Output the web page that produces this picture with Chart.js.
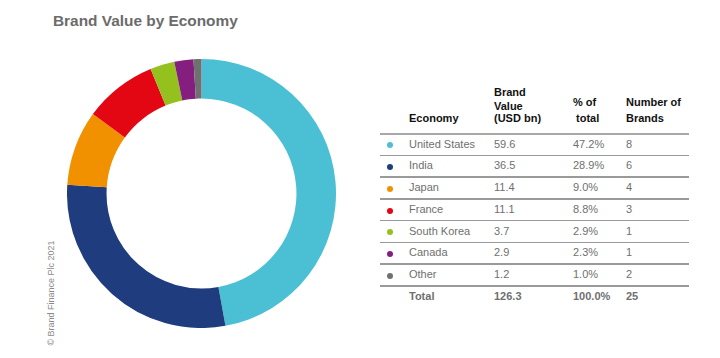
<!DOCTYPE html>
<html>
<head>
<meta charset="utf-8">
<script src="https://cdn.jsdelivr.net/npm/chart.js@4"></script>
<style>
  html, body { margin:0; padding:0; background:#fff; }
  body { width:720px; height:358px; position:relative; overflow:hidden; font-family:"Liberation Sans", Arial, sans-serif; }
  #title { position:absolute; left:53px; top:13px; font-size:15.4px; line-height:15px; font-weight:bold; color:#6b6b6b; white-space:nowrap; }
  #chartBox { position:absolute; left:67px; top:59px; width:269px; height:269px; }
  #copy { position:absolute; left:51px; top:293px; font-size:9px; line-height:9px; color:#8a8a8a; white-space:nowrap; transform:translate(-50%,-50%) rotate(-90deg); }
  .t { position:absolute; white-space:nowrap; font-size:11px; }
  .h { font-weight:bold; color:#111; line-height:13px; }
  .c { color:#6f6f6f; }
  .b { font-weight:bold; color:#6f6f6f; }
  .line { position:absolute; left:380px; width:309px; background:#9a9a9a; }
  .dot { position:absolute; width:6px; height:6px; border-radius:50%; }
</style>
</head>
<body>
<div id="title">Brand Value by Economy</div>
<div id="chartBox"><canvas id="c"></canvas></div>
<div id="copy">© Brand Finance Plc 2021</div>
<div id="table"></div>
<script>
const economies = ["United States", "India", "Japan", "France", "South Korea", "Canada", "Other"];
const brandValues = [59.6, 36.5, 11.4, 11.1, 3.7, 2.9, 1.2];
const valueLabels = ["59.6", "36.5", "11.4", "11.1", "3.7", "2.9", "1.2"];
const pctLabels = ["47.2%", "28.9%", "9.0%", "8.8%", "2.9%", "2.3%", "1.0%"];
const brandCounts = ["8", "6", "4", "3", "1", "1", "2"];
const totalRow = ["Total", "126.3", "100.0%", "25"];
const colors = ["#4bbfd3", "#1f3c7e", "#f29100", "#e30613", "#95c11f", "#841f80", "#707070"];

new Chart(document.getElementById('c'), {
  type: 'doughnut',
  data: {
    labels: economies,
    datasets: [{ data: brandValues, backgroundColor: colors, borderWidth: 0, hoverOffset: 0 }]
  },
  options: {
    responsive: true,
    maintainAspectRatio: false,
    animation: false,
    cutout: '70.6%',
    layout: { padding: 0 },
    plugins: { legend: { display: false }, tooltip: { enabled: false } }
  }
});

// table
const tbl = document.getElementById('table');
function add(cls, text, left, top, extra) {
  const d = document.createElement('div');
  d.className = 't ' + cls;
  d.textContent = text;
  d.style.left = left + 'px';
  d.style.top = top + 'px';
  if (extra) Object.assign(d.style, extra);
  tbl.appendChild(d);
  return d;
}
const colX = [409, 494, 573, 626];
function hdr(text, x, baseline) { add('h', text, x, baseline - 10.3); }
hdr("Economy", colX[0], 122.7);
hdr("Brand", colX[1], 96.5);
hdr("Value", colX[1], 109.8);
hdr("(USD bn)", colX[1], 122.7);
hdr("% of", colX[2], 106.7);
hdr("total", colX[2] + 3, 122.7);
hdr("Number of", colX[3], 106.7);
hdr("Brands", colX[3], 122.7);

const top0 = 133.5, rh = 21.75;
function hline(y, h, col) {
  const l = document.createElement('div');
  l.className = 'line';
  l.style.top = (y - h / 2) + 'px';
  l.style.height = h + 'px';
  if (col) l.style.background = col;
  tbl.appendChild(l);
}
hline(top0, 2, '#a8a8a8');
economies.forEach((e, i) => {
  const y = top0 + i * rh;
  const st = { height: rh + 'px', lineHeight: rh + 'px' };
  add('c', e, colX[0], y, st);
  add('c', valueLabels[i], colX[1], y, st);
  add('c', pctLabels[i], colX[2], y, st);
  add('c', brandCounts[i], colX[3], y, st);
  const d = document.createElement('div');
  d.className = 'dot';
  d.style.left = '387px';
  d.style.top = (y + rh / 2 - 2) + 'px';
  d.style.background = colors[i];
  tbl.appendChild(d);
  hline(y + rh, 1.5);
});
const yT = top0 + economies.length * rh;
totalRow.forEach((t, k) => add('b', t, colX[k], yT, { height: rh + 'px', lineHeight: rh + 'px' }));
</script>
</body>
</html>
